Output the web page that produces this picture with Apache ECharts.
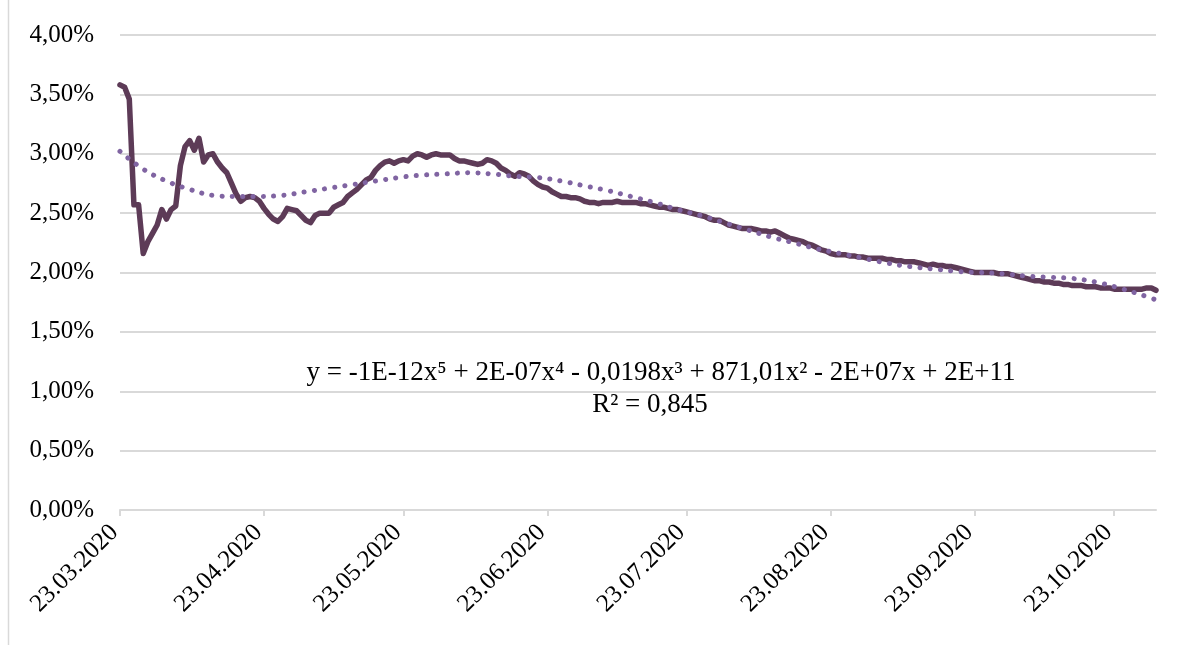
<!DOCTYPE html>
<html>
<head>
<meta charset="utf-8">
<script src="https://cdn.jsdelivr.net/npm/echarts@6/dist/echarts.min.js"></script>
<style>
  html, body { margin: 0; padding: 0; background: #fff; }
  #chart { width: 1200px; height: 645px; }
</style>
</head>
<body>
<div id="chart"></div>
<script>
// daily rate, % (23.03.2020 .. 01.11.2020)
const firstDay = [2020, 2, 23];
const rateValues = [
  3.58, 3.56, 3.46, 2.57, 2.57, 2.16, 2.26, 2.33, 2.40, 2.53,
  2.45, 2.53, 2.56, 2.90, 3.06, 3.11, 3.03, 3.13, 2.93, 2.99,
  3.00, 2.93, 2.88, 2.84, 2.75, 2.66, 2.60, 2.63, 2.64, 2.63,
  2.60, 2.54, 2.49, 2.45, 2.43, 2.47, 2.54, 2.53, 2.52, 2.48,
  2.44, 2.42, 2.48, 2.50, 2.50, 2.50, 2.55, 2.57, 2.59, 2.64,
  2.67, 2.70, 2.74, 2.78, 2.80, 2.86, 2.90, 2.93, 2.94, 2.92,
  2.94, 2.95, 2.94, 2.98, 3.00, 2.99, 2.97, 2.99, 3.00, 2.99,
  2.99, 2.99, 2.96, 2.94, 2.94, 2.93, 2.92, 2.91, 2.92, 2.95,
  2.94, 2.92, 2.88, 2.86, 2.83, 2.81, 2.84, 2.83, 2.81, 2.77,
  2.74, 2.72, 2.71, 2.68, 2.66, 2.64, 2.64, 2.63, 2.63, 2.62,
  2.60, 2.59, 2.59, 2.58, 2.59, 2.59, 2.59, 2.60, 2.59, 2.59,
  2.59, 2.59, 2.58, 2.58, 2.57, 2.56, 2.55, 2.55, 2.54, 2.53,
  2.53, 2.52, 2.51, 2.50, 2.49, 2.48, 2.47, 2.45, 2.44, 2.44,
  2.42, 2.40, 2.39, 2.38, 2.37, 2.37, 2.37, 2.36, 2.35, 2.35,
  2.34, 2.35, 2.33, 2.31, 2.29, 2.28, 2.27, 2.26, 2.24, 2.23,
  2.21, 2.19, 2.18, 2.16, 2.15, 2.15, 2.15, 2.14, 2.14, 2.13,
  2.13, 2.12, 2.12, 2.12, 2.12, 2.11, 2.11, 2.10, 2.10, 2.09,
  2.09, 2.09, 2.08, 2.07, 2.06, 2.07, 2.06, 2.06, 2.05, 2.05,
  2.04, 2.03, 2.02, 2.01, 2.00, 2.00, 2.00, 2.00, 2.00, 1.99,
  1.99, 1.99, 1.98, 1.97, 1.96, 1.95, 1.94, 1.93, 1.93, 1.92,
  1.92, 1.91, 1.91, 1.90, 1.90, 1.89, 1.89, 1.89, 1.88, 1.88,
  1.88, 1.87, 1.87, 1.87, 1.86, 1.86, 1.86, 1.86, 1.86, 1.86,
  1.86, 1.87, 1.87, 1.85
];

// polynomial trend line (day index -> %)
const trendDays = [0, 5, 10, 15, 20, 25, 30, 35, 40, 45, 50, 55, 60, 65, 70, 75, 80, 85, 90, 95,
  100, 105, 110, 115, 120, 125, 130, 135, 140, 145, 150, 155, 160, 165, 170, 175, 180, 185, 190,
  195, 200, 205, 210, 215, 220, 223];
const trendValues = [3.02, 2.87, 2.77, 2.70, 2.65, 2.64, 2.64, 2.65, 2.68, 2.71, 2.74, 2.77, 2.80,
  2.82, 2.83, 2.84, 2.83, 2.81, 2.80, 2.77, 2.73, 2.69, 2.64, 2.59, 2.53, 2.48, 2.42, 2.36, 2.30,
  2.25, 2.20, 2.16, 2.12, 2.08, 2.05, 2.03, 2.01, 2.00, 1.99, 1.97, 1.96, 1.95, 1.92, 1.87, 1.81, 1.77];

const equationText = 'y = -1E-12x⁵ + 2E-07x⁴ - 0,0198x³ + 871,01x² - 2E+07x + 2E+11';
const r2Text = 'R² = 0,845';

const pad = n => (n < 10 ? '0' : '') + n;
const dates = rateValues.map((_, i) => {
  const d = new Date(Date.UTC(firstDay[0], firstDay[1], firstDay[2] + i));
  return pad(d.getUTCDate()) + '.' + pad(d.getUTCMonth() + 1) + '.' + d.getUTCFullYear();
});
const isTickDay = (idx, val) => val.slice(0, 3) === '23.';

const FONT = '"Liberation Serif", "Times New Roman", serif';

const chart = echarts.init(document.getElementById('chart'));
chart.setOption({
  animation: false,
  backgroundColor: '#fff',
  grid: { left: 120, right: 44, top: 35, bottom: 135, containLabel: false },
  xAxis: {
    type: 'category',
    data: dates,
    boundaryGap: false,
    axisLine: { lineStyle: { color: '#d9d9d9', width: 2 } },
    axisTick: { show: true, interval: isTickDay, length: 6, lineStyle: { color: '#d9d9d9', width: 2 } },
    axisLabel: {
      interval: isTickDay,
      rotate: 45,
      margin: 13,
      padding: [0, 8, 0, 0],
      color: '#000',
      fontFamily: FONT,
      fontSize: 25
    },
    splitLine: { show: false }
  },
  yAxis: {
    type: 'value',
    min: 0,
    max: 4,
    interval: 0.5,
    axisLine: { show: false },
    axisTick: { show: false },
    axisLabel: {
      margin: 26,
      color: '#000',
      fontFamily: FONT,
      fontSize: 25,
      formatter: v => v.toFixed(2).replace('.', ',') + '%'
    },
    splitLine: { lineStyle: { color: '#d9d9d9', width: 2 } }
  },
  series: [
    {
      name: 'rate',
      type: 'line',
      data: rateValues,
      showSymbol: false,
      lineStyle: { color: '#5d3b57', width: 5.5, join: 'round', cap: 'round' },
      z: 2
    },
    {
      name: 'trend',
      type: 'line',
      data: trendDays.map((d, i) => [d, trendValues[i]]),
      smooth: 0.4,
      showSymbol: false,
      lineStyle: { color: '#8064a2', width: 5, type: [0.1, 10.2], cap: 'round' },
      z: 3
    }
  ],
  graphic: [
    {
      type: 'line',
      shape: { x1: 8.5, y1: 0, x2: 8.5, y2: 645 },
      style: { stroke: '#d9d9d9', lineWidth: 1.5 }
    },
    {
      type: 'text',
      x: 661, y: 373,
      style: { text: equationText, font: '27px ' + FONT, fill: '#000', align: 'center', verticalAlign: 'middle' }
    },
    {
      type: 'text',
      x: 650, y: 405,
      style: { text: r2Text, font: '27px ' + FONT, fill: '#000', align: 'center', verticalAlign: 'middle' }
    }
  ]
});
</script>
</body>
</html>
